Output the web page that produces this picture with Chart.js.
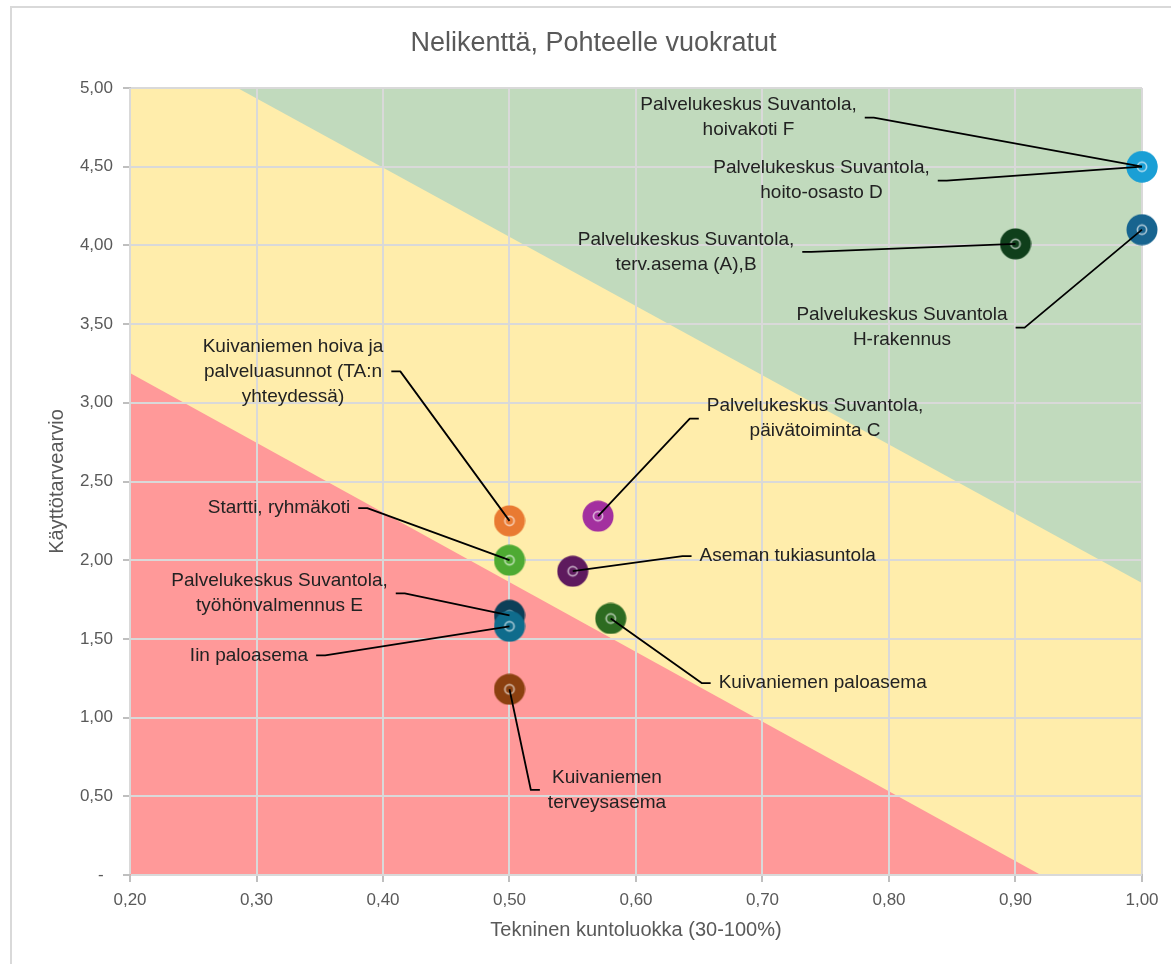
<!DOCTYPE html>
<html lang="fi">
<head>
<meta charset="utf-8">
<title>Nelikenttä, Pohteelle vuokratut</title>
<script src="https://cdn.jsdelivr.net/npm/chart.js@4.4.1/dist/chart.umd.min.js"></script>
<style>
  html, body { margin: 0; padding: 0; background: #ffffff; }
  #wrap { position: relative; width: 1171px; height: 964px; }
</style>
</head>
<body>
<div id="wrap"><canvas id="chart"></canvas></div>
<script>
// Kohteet: nimi, tekninen kuntoluokka (x) ja käyttötarvearvio (y)
const siteNames = [
  'Palvelukeskus Suvantola,\nhoivakoti F',
  'Palvelukeskus Suvantola,\nhoito-osasto D',
  'Palvelukeskus Suvantola,\nterv.asema (A),B',
  'Palvelukeskus Suvantola\nH-rakennus',
  'Kuivaniemen hoiva ja\npalveluasunnot (TA:n\nyhteydessä)',
  'Palvelukeskus Suvantola,\npäivätoiminta C',
  'Startti, ryhmäkoti',
  'Aseman tukiasuntola',
  'Palvelukeskus Suvantola,\ntyöhönvalmennus E',
  'Iin paloasema',
  'Kuivaniemen paloasema',
  'Kuivaniemen\nterveysasema'
];
const kuntoluokka = [1.00, 1.00, 0.90, 1.00, 0.50, 0.57, 0.50, 0.55, 0.50, 0.50, 0.58, 0.50];
const kayttotarve = [4.50, 4.50, 4.01, 4.10, 2.25, 2.28, 2.00, 1.93, 1.65, 1.58, 1.63, 1.18];
const siteColors = [
  '#1a9fd5', '#1a9fd5', '#0f3f1b', '#17648f', '#e97a32', '#a3309f',
  '#4eaa32', '#5e1a5e', '#0d3f58', '#0f6c8c', '#2d6b21', '#8b4010'
];

// Vyöhykkeiden rajat
const greenZoneX = [0.20, 1.00];
const greenZoneY = [5.00, 5.00];
const yellowZoneX = [0.20, 0.285, 1.00];
const yellowZoneY = [5.00, 5.00, 1.855];
const redZoneX = [0.20, 0.92];
const redZoneY = [3.19, 0.00];

// Akseleiden jaot
const xTickValues = [0.20, 0.30, 0.40, 0.50, 0.60, 0.70, 0.80, 0.90, 1.00];
const yTickValues = [0, 0.5, 1.0, 1.5, 2.0, 2.5, 3.0, 3.5, 4.0, 4.5, 5.0];

// Selitetekstien sijoittelu pisteeseen nähden (px) ja johtoviivan puoli
const labelLayout = [
  { dx: -393.5, dy: -49,    side: 'right' },
  { dx: -320.5, dy: 14,     side: 'right' },
  { dx: -329.5, dy: 8,      side: 'right' },
  { dx: -240,   dy: 98,     side: 'right' },
  { dx: -216.5, dy: -149.5, side: 'right' },
  { dx: 217,    dy: -97.5,  side: 'left'  },
  { dx: -230.5, dy: -52,    side: 'right' },
  { dx: 215,    dy: -15,    side: 'left'  },
  { dx: -230,   dy: -22,    side: 'right' },
  { dx: -260.5, dy: 29,     side: 'right' },
  { dx: 212,    dy: 64.6,   side: 'left'  },
  { dx: 97.5,   dy: 100.7,  side: 'left'  }
];

const FONT = "'Liberation Sans', Arial, sans-serif";
Chart.defaults.font.family = FONT;

const toPoints = (xs, ys) => xs.map((x, i) => ({ x: x, y: ys[i] }));
const fmt = v => v.toFixed(2).replace('.', ',');

// Pistemerkki: värillinen ympyrä ja vaalea rengas keskellä
function makeMarker(color) {
  const c = document.createElement('canvas');
  c.width = 32; c.height = 32;
  const g = c.getContext('2d');
  g.fillStyle = color;
  g.beginPath(); g.arc(16, 16, 15.5, 0, Math.PI * 2); g.fill();
  g.strokeStyle = 'rgba(255,255,255,0.62)';
  g.lineWidth = 1.7;
  g.beginPath(); g.arc(16, 16, 4.6, 0, Math.PI * 2); g.stroke();
  return c;
}
const markerImages = siteColors.map(makeMarker);

const RED_ZONE_INDEX = 2;

const framePlugin = {
  id: 'frame',
  beforeDraw(chart) {
    const ctx = chart.ctx;
    ctx.save();
    ctx.fillStyle = '#ffffff';
    ctx.fillRect(0, 0, chart.width, chart.height);
    ctx.strokeStyle = '#d9d9d9';
    ctx.lineWidth = 2;
    ctx.beginPath();
    ctx.moveTo(11, chart.height);
    ctx.lineTo(11, 7);
    ctx.lineTo(chart.width, 7);
    ctx.stroke();
    ctx.restore();
  },
  // ruudukko vyöhykkeiden päälle, pisteiden alle
  afterDatasetDraw(chart, args) {
    if (args.index === RED_ZONE_INDEX) {
      chart.scales.x.drawGrid(chart.chartArea);
      chart.scales.y.drawGrid(chart.chartArea);
    }
  }
};

const leaderLabelPlugin = {
  id: 'leaderLabels',
  afterDatasetsDraw(chart) {
    const ctx = chart.ctx;
    const meta = chart.getDatasetMeta(3);
    const lineH = 25;
    ctx.save();
    ctx.font = '19px ' + FONT;
    // johtoviivat
    siteNames.forEach((name, i) => {
      const pt = meta.data[i];
      const lay = labelLayout[i];
      const lines = name.split('\n');
      const w = Math.max(...lines.map(l => ctx.measureText(l).width));
      const cx = pt.x + lay.dx, cy = pt.y + lay.dy;
      const sx = lay.side === 'right' ? cx + w / 2 + 8 : cx - w / 2 - 8;
      const ex = lay.side === 'right' ? sx + 9 : sx - 9;
      ctx.strokeStyle = '#000000';
      ctx.lineWidth = 1.8;
      ctx.lineJoin = 'round';
      ctx.beginPath();
      ctx.moveTo(sx, cy);
      ctx.lineTo(ex, cy);
      ctx.lineTo(pt.x, pt.y);
      ctx.stroke();
    });
    // tekstit
    ctx.fillStyle = '#222222';
    ctx.textAlign = 'center';
    ctx.textBaseline = 'middle';
    siteNames.forEach((name, i) => {
      const pt = meta.data[i];
      const lay = labelLayout[i];
      const lines = name.split('\n');
      const cx = pt.x + lay.dx, cy = pt.y + lay.dy;
      lines.forEach((l, k) => {
        ctx.fillText(l, cx, cy + (k - (lines.length - 1) / 2) * lineH);
      });
    });
    ctx.restore();
  }
};

const zoneStyle = { fill: 'origin', borderWidth: 0, pointRadius: 0, tension: 0 };

new Chart(document.getElementById('chart'), {
  type: 'line',
  data: {
    datasets: [
      Object.assign({ label: 'vihreä', data: toPoints(greenZoneX, greenZoneY), backgroundColor: '#c1dabd', order: 4 }, zoneStyle),
      Object.assign({ label: 'keltainen', data: toPoints(yellowZoneX, yellowZoneY), backgroundColor: '#ffedab', order: 3 }, zoneStyle),
      Object.assign({ label: 'punainen', data: toPoints(redZoneX, redZoneY), backgroundColor: '#ff9999', order: 2 }, zoneStyle),
      {
        label: 'Kohteet',
        data: toPoints(kuntoluokka, kayttotarve),
        showLine: false,
        pointStyle: markerImages,
        pointRadius: 15.5,
        pointBackgroundColor: siteColors,
        clip: false,
        order: 1
      }
    ]
  },
  options: {
    responsive: true,
    maintainAspectRatio: false,
    animation: false,
    events: [],
    layout: { padding: { left: 45, right: 29, top: 0, bottom: 0 } },
    plugins: {
      legend: { display: false },
      tooltip: { enabled: false },
      title: {
        display: true,
        text: 'Nelikenttä, Pohteelle vuokratut',
        color: '#595959',
        font: { size: 27, weight: 'normal', family: FONT },
        padding: { top: 27.8, bottom: 27.8 }
      }
    },
    scales: {
      x: {
        type: 'linear',
        min: 0.2,
        max: 1.0,
        afterBuildTicks: s => { s.ticks = xTickValues.map(v => ({ value: v })); },
        afterFit: s => { s.height = 89; },
        ticks: {
          color: '#595959',
          font: { size: 17 },
          padding: 8,
          maxRotation: 0,
          autoSkip: false,
          callback: v => fmt(v)
        },
        grid: { color: '#d9d9d9', lineWidth: 2, tickLength: 7, tickColor: '#bfbfbf', tickWidth: 2 },
        border: { color: '#bfbfbf', width: 2 },
        title: {
          display: true,
          text: 'Tekninen kuntoluokka (30-100%)',
          color: '#595959',
          font: { size: 20, weight: 'normal' },
          padding: { top: 0, bottom: 22 }
        }
      },
      y: {
        type: 'linear',
        min: 0,
        max: 5,
        afterBuildTicks: s => { s.ticks = yTickValues.map(v => ({ value: v })); },
        afterFit: s => { s.width = 85; },
        ticks: {
          color: '#595959',
          font: { size: 17 },
          padding: 10,
          callback: v => (v === 0 ? '-  ' : fmt(v))
        },
        grid: { color: '#d9d9d9', lineWidth: 2, tickLength: 7, tickColor: '#bfbfbf', tickWidth: 2 },
        border: { color: '#bfbfbf', width: 2 },
        title: {
          display: true,
          text: 'Käyttötarvearvio',
          color: '#595959',
          font: { size: 20, weight: 'normal' },
          padding: { top: 0, bottom: 0 }
        }
      }
    }
  },
  plugins: [framePlugin, leaderLabelPlugin]
});
</script>
</body>
</html>
